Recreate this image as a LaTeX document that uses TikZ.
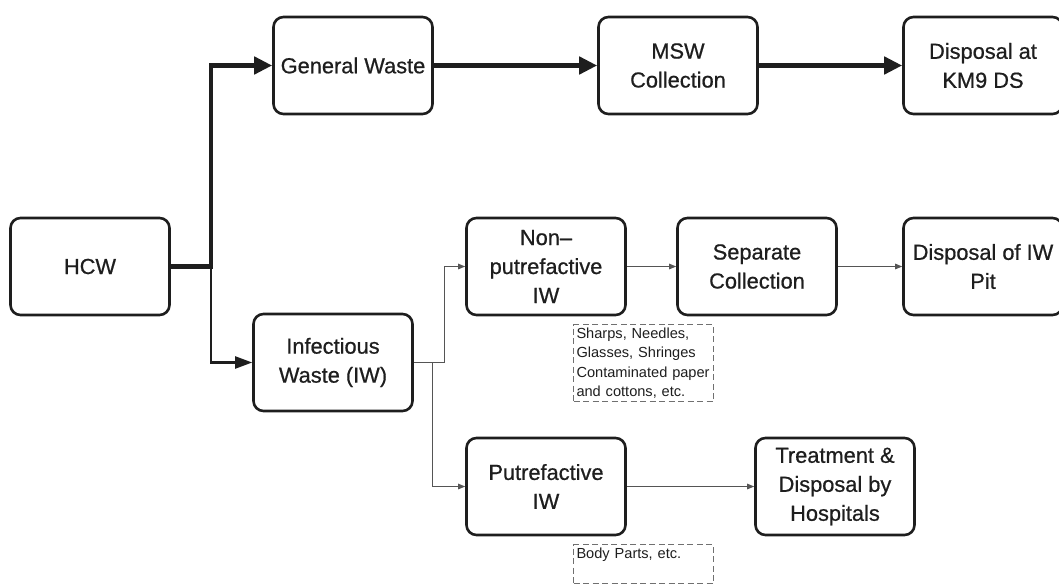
\documentclass[tikz,border=0pt]{standalone}
\usepackage{fontspec}
\setmainfont{Liberation Sans}
\newfontfamily\boxfont[FakeBold=0.7,Ligatures=TeX]{Liberation Sans}
\usetikzlibrary{arrows.meta}
\definecolor{ink}{HTML}{1E1E1E}
\definecolor{thinline}{HTML}{555555}
\definecolor{dashline}{HTML}{707070}
\begin{document}
\begin{tikzpicture}[x=1pt,y=-1pt,
  box/.style={draw=ink, line width=2.6pt, rounded corners=10pt,
    minimum width=159pt, minimum height=97pt, inner sep=0pt,
    align=center, text=ink, font=\boxfont\fontsize{21.8}{29}\selectfont},
  note/.style={draw=dashline, line width=1pt, dash pattern=on 6pt off 3.5pt,
    anchor=north west, align=left, inner xsep=3pt, inner ysep=3pt,
    text=ink, font=\fontsize{14.6}{19.3}\selectfont},
  heavy/.style={draw=ink, line width=4.5pt,
    -{Triangle[length=18pt,width=17pt]}},
  medium/.style={draw=ink, line width=2.2pt,
    -{Triangle[length=17pt,width=12pt]}},
  light/.style={draw=thinline, line width=1pt,
    -{Triangle[length=7pt,width=5.5pt]}}]
\useasboundingbox (0,0) rectangle (1059,583);
\clip (0,0) rectangle (1059,583);

% process boxes
\node[box] (hcw)   at (90,266.5)  {HCW};
\node[box] (gw)    at (353,65.5)  {General Waste};
\node[box] (msw)   at (678,65.5)  {MSW\\Collection};
\node[box] (km9)   at (983,65.5)  {Disposal at\\KM9 DS};
\node[box] (iw)    at (333,362.5) {Infectious\\Waste (IW)};
\node[box] (nonp)  at (546,266.5) {Non\textendash\\putrefactive\\IW};
\node[box] (sep)   at (757,266.5) {Separate\\Collection};
\node[box] (pit)   at (983,266.5) {Disposal of IW\\Pit};
\node[box] (putr)  at (546,486.5) {Putrefactive\\IW};
\node[box] (treat) at (835,486.5) {Treatment \&\\Disposal by\\Hospitals};

% examples of each infectious waste type
\node[note, text width=134pt, minimum width=140pt, minimum height=77pt] (ex1) at (573,324)
  {Sharps, Needles,\\Glasses, Shringes\\Contaminated paper\\and cottons, etc.};
\node[note, text width=134pt, minimum width=140pt, text height=11pt, text depth=22pt] (ex2) at (573,544)
  {Body Parts, etc.};

% branch points
\coordinate (j1) at (211,266.5);
\coordinate (j2) at (444,362.5);
\coordinate (j3) at (432,362.5);

% general waste stream
\draw[heavy] (hcw.east) -- (j1) |- (gw.west);
\draw[heavy] (gw) -- (msw);
\draw[heavy] (msw) -- (km9);

% infectious waste stream
\draw[medium] (j1) |- (iw.west);
\draw[thinline, line width=1pt] (iw.east) -- (j2);
\draw[light] (j2) |- (nonp.west);
\draw[light] (j3) |- (putr.west);
\draw[light] (nonp) -- (sep);
\draw[light] (sep) -- (pit);
\draw[light] (putr) -- (treat);
\end{tikzpicture}
\end{document}
